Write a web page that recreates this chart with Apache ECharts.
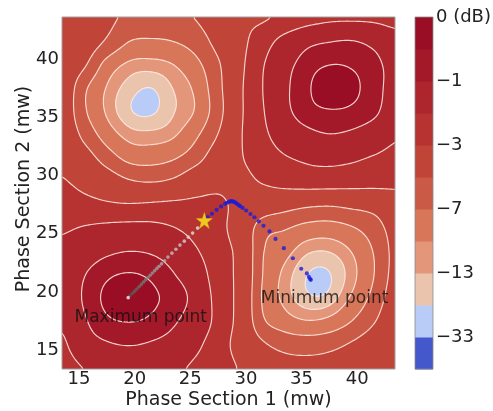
<!DOCTYPE html>
<html>
<head>
<meta charset="utf-8">
<script src="https://cdn.jsdelivr.net/npm/echarts@6/dist/echarts.min.js"></script>
<style>
html, body { margin: 0; padding: 0; background: #ffffff; }
#chart { width: 493px; height: 411px; }
</style>
</head>
<body>
<div id="chart"></div>
<script>
// Heater powers (mw) at which the output power was sampled
const phase1Mw = [13.5, 15.5, 17.5, 19.5, 21.5, 23.5, 25.5, 27.5, 29.5, 31.5, 33.5, 35.5, 37.5, 39.5, 41.5, 43.5];
const phase2Mw = [13.5, 15.5, 17.5, 19.5, 21.5, 23.5, 25.5, 27.5, 29.5, 31.5, 33.5, 35.5, 37.5, 39.5, 41.5, 43.5];

// Normalised output power (linear); one row per phase2Mw value, one column per phase1Mw value
const outputPower = [
  [0.580, 0.635, 0.665, 0.680, 0.675, 0.655, 0.610, 0.555, 0.490, 0.410, 0.370, 0.360, 0.370, 0.400, 0.440, 0.470],
  [0.610, 0.730, 0.780, 0.800, 0.780, 0.740, 0.660, 0.560, 0.450, 0.335, 0.275, 0.260, 0.280, 0.330, 0.397, 0.470],
  [0.655, 0.780, 0.870, 0.895, 0.870, 0.810, 0.720, 0.590, 0.450, 0.220, 0.140, 0.105, 0.125, 0.200, 0.306, 0.431],
  [0.700, 0.810, 0.920, 1.000, 0.915, 0.850, 0.750, 0.580, 0.455, 0.190, 0.080, 0.020, 0.026, 0.112, 0.235, 0.392],
  [0.690, 0.790, 0.870, 0.900, 0.870, 0.800, 0.710, 0.560, 0.460, 0.200, 0.081, 0.011, 0.008, 0.076, 0.198, 0.363],
  [0.668, 0.720, 0.770, 0.794, 0.780, 0.730, 0.645, 0.545, 0.460, 0.210, 0.130, 0.060, 0.053, 0.103, 0.206, 0.354],
  [0.615, 0.640, 0.660, 0.670, 0.665, 0.635, 0.585, 0.530, 0.440, 0.250, 0.210, 0.165, 0.155, 0.190, 0.260, 0.371],
  [0.560, 0.540, 0.520, 0.510, 0.520, 0.530, 0.530, 0.520, 0.470, 0.410, 0.370, 0.340, 0.330, 0.350, 0.370, 0.420],
  [0.510, 0.460, 0.400, 0.330, 0.310, 0.340, 0.420, 0.470, 0.470, 0.510, 0.550, 0.570, 0.570, 0.560, 0.550, 0.540],
  [0.465, 0.380, 0.260, 0.170, 0.160, 0.190, 0.270, 0.400, 0.490, 0.560, 0.620, 0.650, 0.660, 0.650, 0.620, 0.590],
  [0.430, 0.280, 0.150, 0.075, 0.065, 0.090, 0.180, 0.320, 0.490, 0.600, 0.700, 0.760, 0.790, 0.770, 0.720, 0.650],
  [0.410, 0.215, 0.090, 0.016, 0.004, 0.047, 0.110, 0.270, 0.480, 0.620, 0.760, 0.850, 0.880, 0.870, 0.820, 0.710],
  [0.420, 0.220, 0.095, 0.030, 0.010, 0.053, 0.120, 0.280, 0.480, 0.630, 0.770, 0.870, 0.985, 0.920, 0.840, 0.740],
  [0.440, 0.330, 0.160, 0.085, 0.075, 0.100, 0.170, 0.300, 0.470, 0.620, 0.750, 0.840, 0.890, 0.880, 0.830, 0.740],
  [0.470, 0.400, 0.300, 0.200, 0.185, 0.200, 0.250, 0.360, 0.465, 0.570, 0.680, 0.760, 0.790, 0.800, 0.760, 0.690],
  [0.480, 0.420, 0.350, 0.290, 0.290, 0.300, 0.320, 0.400, 0.475, 0.490, 0.530, 0.580, 0.610, 0.615, 0.610, 0.590]
];

// Contour levels (dB), lowest to highest, and the fill of each band between them
const levelsDb = [-43, -33, -20, -13, -10, -7, -5, -3, -2, -1, -0.5, 0];
const bandColors = ['#4458cc', '#b8ccf7', '#ebc4ad', '#e3967a', '#d8765a', '#ca5a45', '#c04538', '#b63331', '#ad252d', '#a3192a', '#990e25'];

// Colour-bar labels: boundary index -> text
const colorbarLabels = { 1: '\u221233', 3: '\u221213', 5: '\u22127', 7: '\u22123', 9: '\u22121', 11: '0 (dB)' };

// Tuning start point and the two optimisation traces (mw, mw)
const startPoint = [26.26, 26.14];
const ascentPath = [
  [25.66, 25.49], [25.21, 25.06], [24.82, 24.71], [24.46, 24.37], [24.07, 24.03], [23.71, 23.68],
  [23.35, 23.34], [22.99, 23.00], [22.69, 22.68], [22.42, 22.42], [22.20, 22.22], [22.00, 22.03],
  [21.80, 21.84], [21.60, 21.64], [21.40, 21.44], [21.20, 21.24], [21.00, 21.05], [20.80, 20.86],
  [20.60, 20.66], [20.40, 20.46], [20.20, 20.26], [20.00, 20.08], [19.80, 19.89], [19.60, 19.70],
  [19.42, 19.52]
];
const descentPath = [
  [26.56, 26.43], [26.95, 26.72], [27.37, 27.06], [27.77, 27.35], [28.13, 27.57], [28.30, 27.66],
  [28.45, 27.74], [28.58, 27.78], [28.70, 27.80], [28.82, 27.78], [28.93, 27.74], [29.04, 27.68],
  [29.15, 27.61], [29.26, 27.53], [29.38, 27.44], [29.50, 27.36], [29.71, 27.22], [30.02, 27.00],
  [30.41, 26.70], [30.77, 26.42], [31.16, 26.07], [31.58, 25.69], [32.12, 25.20], [32.66, 24.56],
  [33.41, 23.77], [34.22, 22.90], [34.97, 22.00], [35.48, 21.60], [35.66, 21.30], [35.78, 21.12],
  [35.83, 21.05]
];
const annotations = [
  { text: 'Maximum point', at: [20.55, 17.8] },
  { text: 'Minimum point', at: [37.07, 19.45] }
];

// Axis extents (mw)
const X_RANGE = [13.47, 43.4];
const Y_RANGE = [13.4, 43.6];

const FONT = 'DejaVu Sans';
const TEXT = '#222222';

// ---- smooth sampling of the power map ----
const powerFloor = Math.min.apply(null, outputPower.map(r => Math.min.apply(null, r)));
function catmullRom(p0, p1, p2, p3, t) {
  return 0.5 * (2 * p1 + (-p0 + p2) * t + (2 * p0 - 5 * p1 + 4 * p2 - p3) * t * t + (-p0 + 3 * p1 - 3 * p2 + p3) * t * t * t);
}
function powerAt(x, y) {
  const nx = phase1Mw.length, ny = phase2Mw.length;
  let u = (x - phase1Mw[0]) / (phase1Mw[1] - phase1Mw[0]);
  let v = (y - phase2Mw[0]) / (phase2Mw[1] - phase2Mw[0]);
  u = Math.max(0, Math.min(nx - 1, u));
  v = Math.max(0, Math.min(ny - 1, v));
  const i = Math.min(Math.floor(u), nx - 2), j = Math.min(Math.floor(v), ny - 2);
  const tu = u - i, tv = v - j;
  const g = (jj, ii) => outputPower[Math.max(0, Math.min(ny - 1, jj))][Math.max(0, Math.min(nx - 1, ii))];
  const r = [];
  for (let m = -1; m <= 2; m++) r.push(catmullRom(g(j + m, i - 1), g(j + m, i), g(j + m, i + 1), g(j + m, i + 2), tu));
  const p = catmullRom(r[0], r[1], r[2], r[3], tv);
  return Math.min(1, Math.max(powerFloor, p));
}
const NX = 160, NY = 160;
const fineX = [], fineY = [];
for (let i = 0; i <= NX; i++) fineX.push(X_RANGE[0] + (X_RANGE[1] - X_RANGE[0]) * i / NX);
for (let j = 0; j <= NY; j++) fineY.push(Y_RANGE[0] + (Y_RANGE[1] - Y_RANGE[0]) * j / NY);
const fineDb = fineY.map(y => fineX.map(x => 10 * Math.log10(powerAt(x, y))));

function f2(n) { return n.toFixed(2); }

// region where value >= t, as one compound path
function bandPath(t, PX, PY) {
  let s = '';
  const rect = (x0, x1, yb, yt) => 'M' + f2(x0) + ' ' + f2(yb) + 'L' + f2(x1) + ' ' + f2(yb) + 'L' + f2(x1) + ' ' + f2(yt) + 'L' + f2(x0) + ' ' + f2(yt) + 'Z';
  for (let j = 0; j < NY; j++) {
    let run = -1;
    for (let i = 0; i < NX; i++) {
      const a = fineDb[j][i], b = fineDb[j][i + 1], c = fineDb[j + 1][i + 1], d = fineDb[j + 1][i];
      if (a >= t && b >= t && c >= t && d >= t) { if (run < 0) run = i; continue; }
      if (run >= 0) { s += rect(PX[run], PX[i], PY[j], PY[j + 1]); run = -1; }
      if (a < t && b < t && c < t && d < t) continue;
      const cs = [[PX[i], PY[j], a], [PX[i + 1], PY[j], b], [PX[i + 1], PY[j + 1], c], [PX[i], PY[j + 1], d]];
      const pts = [];
      for (let k = 0; k < 4; k++) {
        const p = cs[k], q = cs[(k + 1) % 4];
        if (p[2] >= t) pts.push(p);
        if ((p[2] >= t) !== (q[2] >= t)) {
          const f = (t - p[2]) / (q[2] - p[2]);
          pts.push([p[0] + f * (q[0] - p[0]), p[1] + f * (q[1] - p[1])]);
        }
      }
      s += 'M' + pts.map(p => f2(p[0]) + ' ' + f2(p[1])).join('L') + 'Z';
    }
    if (run >= 0) s += rect(PX[run], PX[NX], PY[j], PY[j + 1]);
  }
  return s;
}

// iso-line of value t (marching squares)
function isoPath(t, PX, PY) {
  let s = '';
  for (let j = 0; j < NY; j++) {
    for (let i = 0; i < NX; i++) {
      const a = fineDb[j][i], b = fineDb[j][i + 1], c = fineDb[j + 1][i + 1], d = fineDb[j + 1][i];
      const code = (a >= t ? 1 : 0) | (b >= t ? 2 : 0) | (c >= t ? 4 : 0) | (d >= t ? 8 : 0);
      if (code === 0 || code === 15) continue;
      const lerp = (x0, y0, v0, x1, y1, v1) => { const f = (t - v0) / (v1 - v0); return [x0 + f * (x1 - x0), y0 + f * (y1 - y0)]; };
      const e = [];
      e[0] = ((a >= t) !== (b >= t)) ? lerp(PX[i], PY[j], a, PX[i + 1], PY[j], b) : null;
      e[1] = ((b >= t) !== (c >= t)) ? lerp(PX[i + 1], PY[j], b, PX[i + 1], PY[j + 1], c) : null;
      e[2] = ((d >= t) !== (c >= t)) ? lerp(PX[i], PY[j + 1], d, PX[i + 1], PY[j + 1], c) : null;
      e[3] = ((a >= t) !== (d >= t)) ? lerp(PX[i], PY[j], a, PX[i], PY[j + 1], d) : null;
      const seg = (p, q) => { s += 'M' + f2(p[0]) + ' ' + f2(p[1]) + 'L' + f2(q[0]) + ' ' + f2(q[1]); };
      const hits = e.filter(Boolean);
      if (hits.length === 2) { seg(hits[0], hits[1]); continue; }
      const centre = (a + b + c + d) / 4 >= t;
      if (code === 5) {
        if (centre) { seg(e[0], e[1]); seg(e[2], e[3]); } else { seg(e[0], e[3]); seg(e[1], e[2]); }
      } else {
        if (centre) { seg(e[0], e[3]); seg(e[1], e[2]); } else { seg(e[0], e[1]); seg(e[2], e[3]); }
      }
    }
  }
  return s;
}

function renderField(params, api) {
  const PX = fineX.map(x => api.coord([x, Y_RANGE[0]])[0]);
  const PY = fineY.map(y => api.coord([X_RANGE[0], y])[1]);
  const children = [];
  const p0 = api.coord([X_RANGE[0], Y_RANGE[1]]);
  const p1 = api.coord([X_RANGE[1], Y_RANGE[0]]);
  children.push({ type: 'rect', shape: { x: p0[0], y: p0[1], width: p1[0] - p0[0], height: p1[1] - p0[1] }, style: { fill: bandColors[0] } });
  for (let k = 1; k < levelsDb.length - 1; k++) {
    const d = bandPath(levelsDb[k], PX, PY);
    if (d) children.push({ type: 'path', shape: { pathData: d }, style: { fill: bandColors[k] } });
  }
  for (let k = 1; k < levelsDb.length - 1; k++) {
    const d = isoPath(levelsDb[k], PX, PY);
    if (d) children.push({ type: 'path', shape: { pathData: d }, style: { fill: 'none', stroke: 'rgba(255,236,228,0.88)', lineWidth: 1.15, lineCap: 'round', lineJoin: 'round' } });
  }
  return { type: 'group', children: children };
}

function renderFrame(params, api) {
  const p0 = api.coord([X_RANGE[0], Y_RANGE[1]]);
  const p1 = api.coord([X_RANGE[1], Y_RANGE[0]]);
  return { type: 'rect', shape: { x: p0[0], y: p0[1], width: p1[0] - p0[0], height: p1[1] - p0[1] }, style: { fill: 'none', stroke: '#a0a0a0', lineWidth: 1 } };
}

function renderColorbar(params, api) {
  const k = api.value(0);
  const a = api.coord([0, k + 1]);
  const b = api.coord([1, k]);
  return { type: 'rect', shape: { x: a[0], y: a[1], width: b[0] - a[0], height: b[1] - a[1] + 0.5 }, style: { fill: bandColors[k] } };
}
function renderColorbarFrame(params, api) {
  const a = api.coord([0, bandColors.length]);
  const b = api.coord([1, 0]);
  return { type: 'rect', shape: { x: a[0], y: a[1], width: b[0] - a[0], height: b[1] - a[1] }, style: { fill: 'none', stroke: '#8a8a8a', lineWidth: 0.8 } };
}

const nAsc = ascentPath.length;
const chart = echarts.init(document.getElementById('chart'), null, { renderer: 'canvas', width: 493, height: 411 });
chart.setOption({
  animation: false,
  backgroundColor: '#ffffff',
  grid: [
    { left: 62, top: 17, width: 333, height: 352, outerBoundsMode: 'none', containLabel: false },
    { left: 415, top: 17, width: 18, height: 352, outerBoundsMode: 'none', containLabel: false }
  ],
  xAxis: [
    {
      type: 'value', gridIndex: 0, min: X_RANGE[0], max: X_RANGE[1], splitNumber: 6,
      name: 'Phase Section 1 (mw)', nameLocation: 'middle', nameGap: 22, nameMoveOverlap: false,
      nameTextStyle: { fontFamily: FONT, fontSize: 19, color: TEXT, verticalAlign: 'top' },
      axisLine: { show: false }, axisTick: { show: false }, splitLine: { show: false },
      axisLabel: { fontFamily: FONT, fontSize: 18, color: TEXT, margin: 1, showMinLabel: false, showMaxLabel: false }
    },
    { type: 'value', gridIndex: 1, min: 0, max: 1, show: false }
  ],
  yAxis: [
    {
      type: 'value', gridIndex: 0, min: Y_RANGE[0], max: Y_RANGE[1], splitNumber: 6,
      name: 'Phase Section 2 (mw)', nameLocation: 'middle', nameGap: 28, nameMoveOverlap: false,
      nameTextStyle: { fontFamily: FONT, fontSize: 19, color: TEXT, padding: [0, 0, 0, 8] },
      axisLine: { show: false }, axisTick: { show: false }, splitLine: { show: false },
      axisLabel: { fontFamily: FONT, fontSize: 18, color: TEXT, margin: 3, showMinLabel: false, showMaxLabel: false }
    },
    {
      type: 'value', gridIndex: 1, min: 0, max: bandColors.length, interval: 1, position: 'right',
      axisLine: { show: false }, axisTick: { show: false }, splitLine: { show: false },
      axisLabel: { fontFamily: FONT, fontSize: 18, color: TEXT, margin: 3, formatter: v => colorbarLabels[v] || '' }
    }
  ],
  series: [
    { type: 'custom', xAxisIndex: 0, yAxisIndex: 0, clip: true, silent: true, z: 1, data: [[X_RANGE[0], Y_RANGE[0]]], renderItem: renderField },
    {
      type: 'scatter', xAxisIndex: 0, yAxisIndex: 0, z: 3, silent: true, symbolSize: 3.6,
      data: ascentPath.map((p, i) => {
        const t = i / (nAsc - 1);
        const g = Math.round(228 - 150 * t);
        const col = i === nAsc - 1 ? '#f2f2f2' : 'rgb(' + g + ',' + g + ',' + g + ')';
        return { value: p, itemStyle: { color: col } };
      })
    },
    {
      type: 'scatter', xAxisIndex: 0, yAxisIndex: 0, z: 3, silent: true, symbolSize: 4.2,
      itemStyle: { color: '#1c1cd8' }, data: descentPath
    },
    {
      type: 'scatter', xAxisIndex: 0, yAxisIndex: 0, z: 4, silent: true, symbolSize: 16,
      symbol: 'path://M50,0 L61.2,34.5 L97.6,34.5 L68.2,55.9 L79.4,90.5 L50,69.1 L20.6,90.5 L31.8,55.9 L2.4,34.5 L38.8,34.5 Z',
      itemStyle: { color: '#ffec1c', borderColor: '#e0b400', borderWidth: 0.6 }, data: [startPoint]
    },
    {
      type: 'scatter', xAxisIndex: 0, yAxisIndex: 0, z: 5, silent: true, symbolSize: 0,
      data: annotations.map(a => ({ value: a.at, name: a.text })),
      label: { show: true, position: 'inside', formatter: '{b}', fontFamily: FONT, fontSize: 17, color: '#111111' }
    },
    { type: 'custom', xAxisIndex: 0, yAxisIndex: 0, clip: false, silent: true, z: 6, data: [[X_RANGE[0], Y_RANGE[0]]], renderItem: renderFrame },
    { type: 'custom', xAxisIndex: 1, yAxisIndex: 1, clip: false, silent: true, z: 1, data: bandColors.map((c, k) => [k]), renderItem: renderColorbar },
    { type: 'custom', xAxisIndex: 1, yAxisIndex: 1, clip: false, silent: true, z: 2, data: [[0]], renderItem: renderColorbarFrame }
  ]
});
</script>
</body>
</html>
